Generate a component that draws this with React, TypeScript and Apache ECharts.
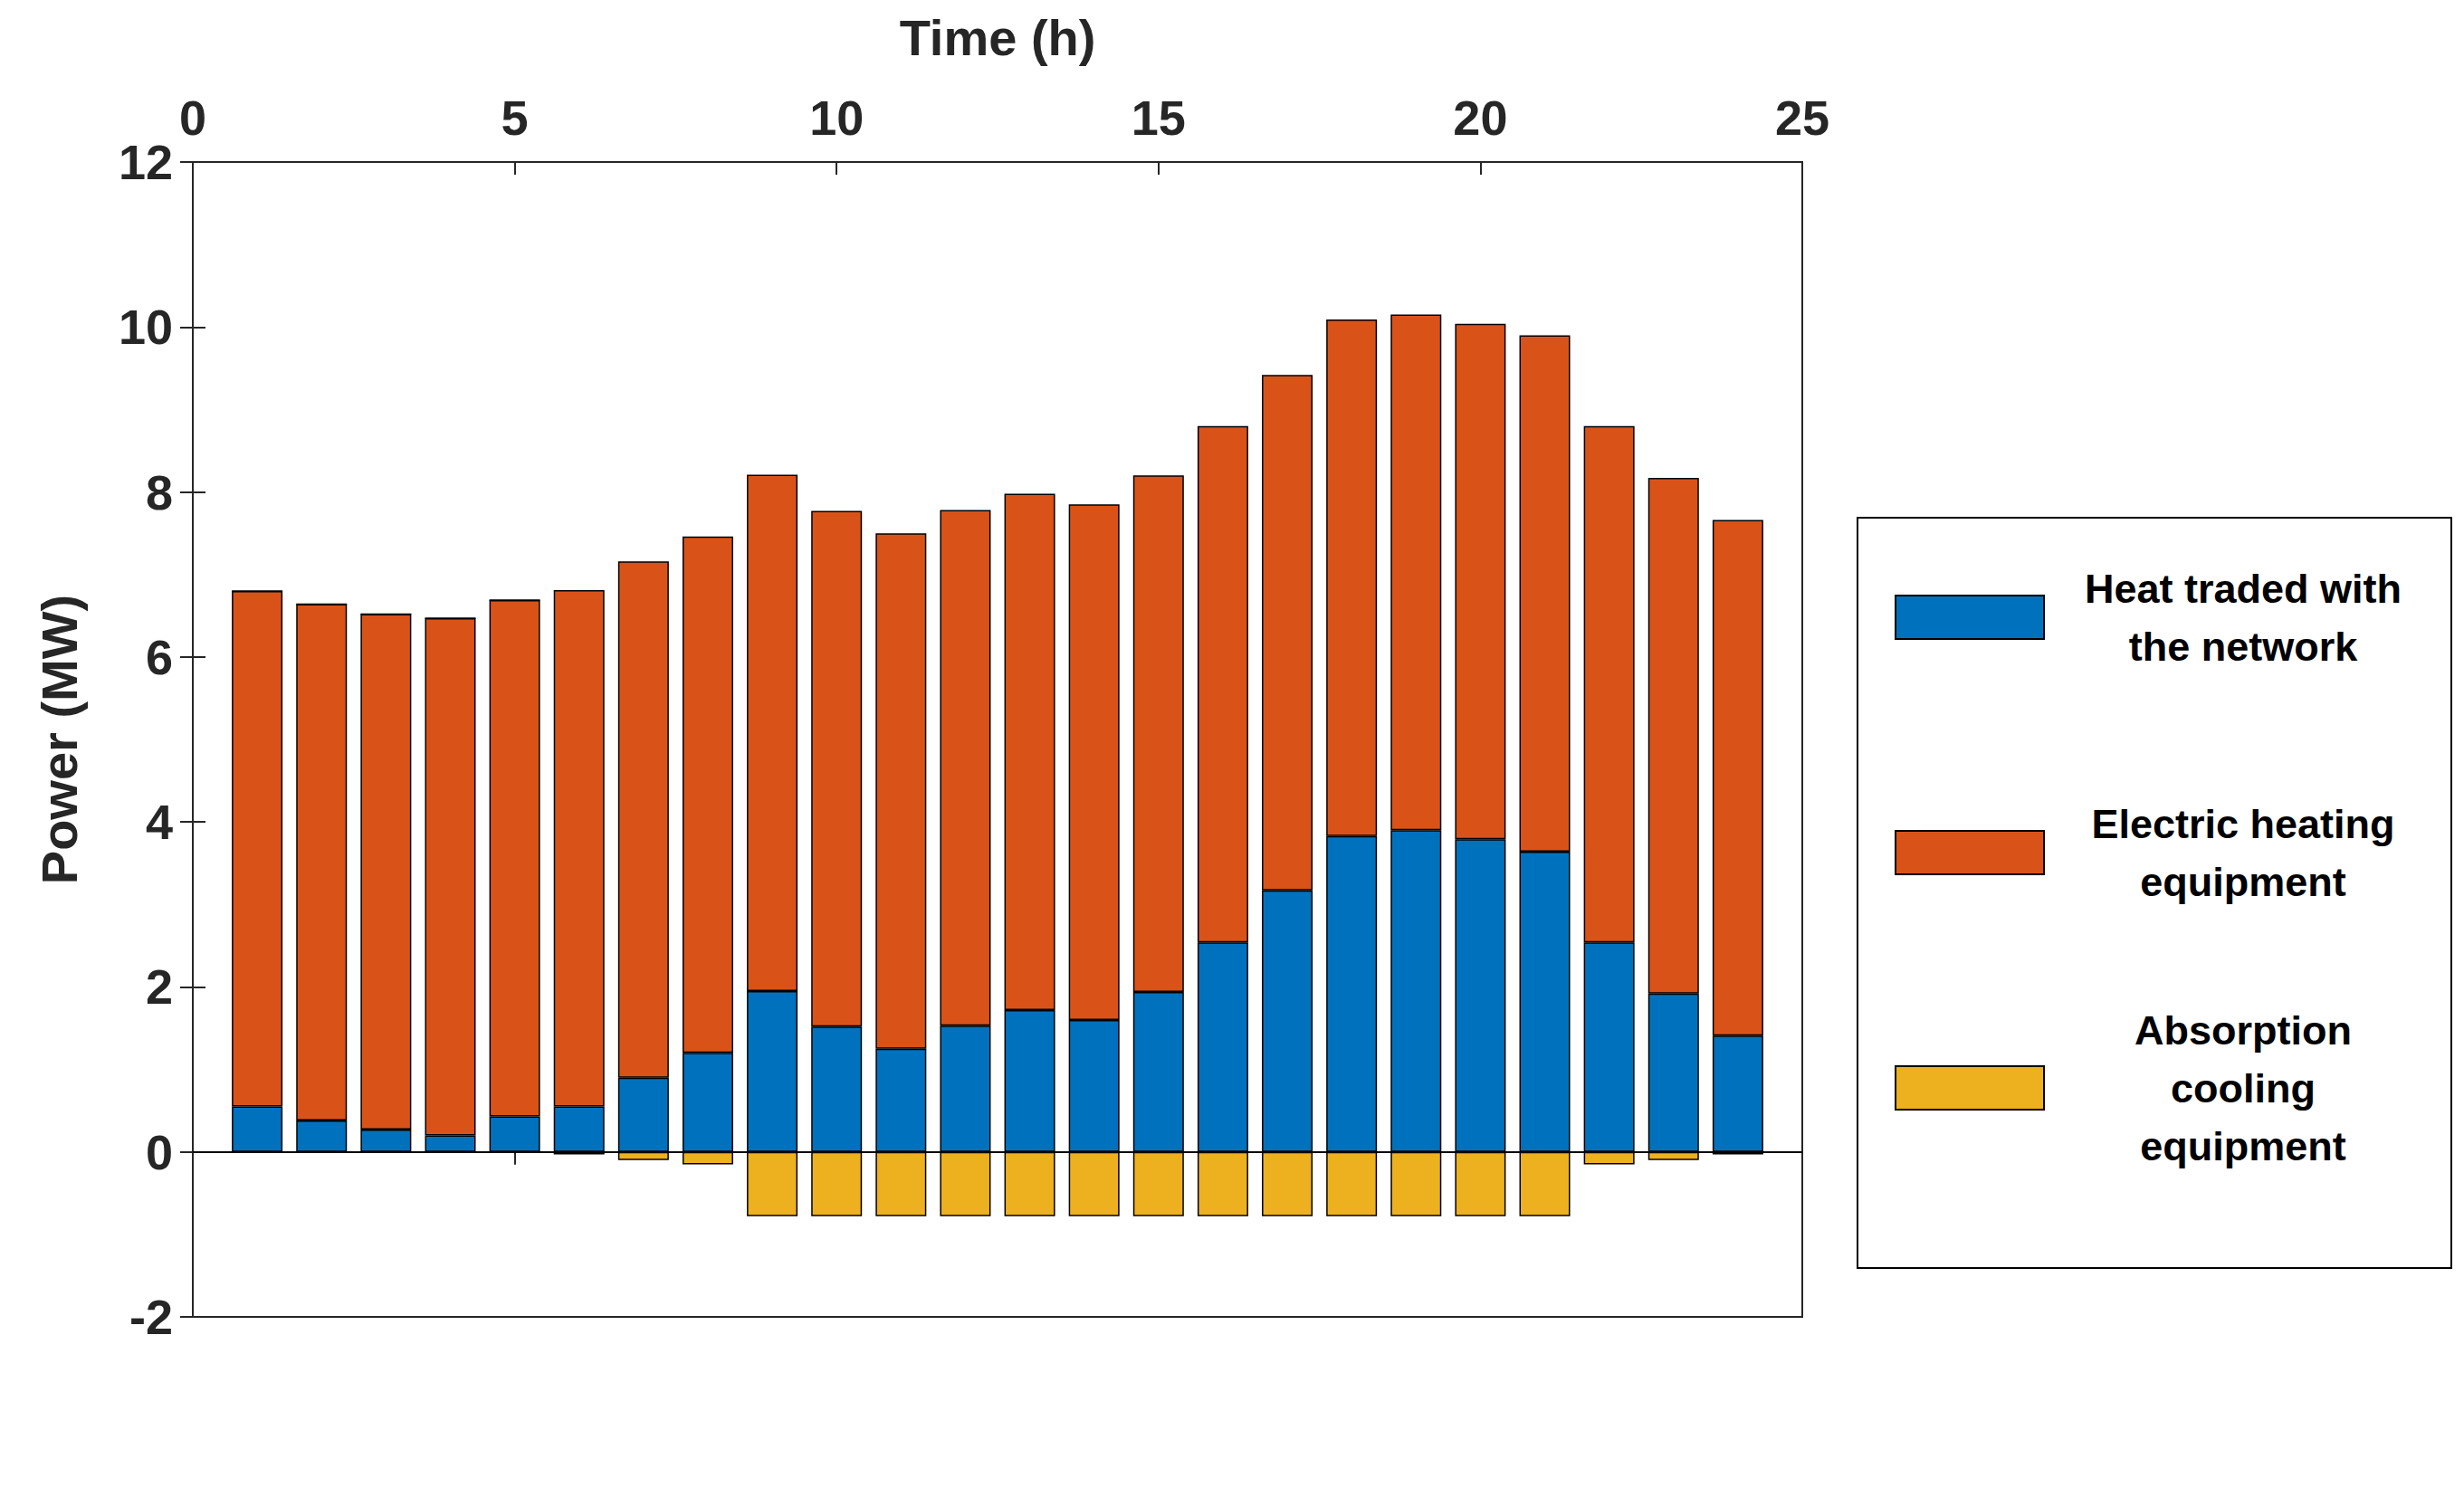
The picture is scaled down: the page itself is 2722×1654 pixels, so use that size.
import React, { useEffect, useRef } from "react";
import * as echarts from "echarts";

const slots = ["0","1","2","3","4","5","6","7","8","9","10","11","12","13","14","15","16","17","18","19","20","21","22","23","24","25"];
const heatTraded = [0.55,0.38,0.27,0.2,0.43,0.55,0.9,1.2,1.95,1.52,1.25,1.53,1.72,1.6,1.94,2.54,3.17,3.83,3.9,3.79,3.64,2.54,1.92,1.41];
const electricHeating = [6.25,6.26,6.25,6.27,6.26,6.26,6.26,6.26,6.26,6.25,6.25,6.25,6.26,6.25,6.26,6.26,6.25,6.26,6.25,6.25,6.26,6.26,6.25,6.25];
const absorptionCooling = [0,0,0,0,0,-0.03,-0.1,-0.15,-0.78,-0.78,-0.78,-0.78,-0.78,-0.78,-0.78,-0.78,-0.78,-0.78,-0.78,-0.78,-0.78,-0.15,-0.1,-0.03];

const FONT = "Liberation Sans";

export default function App() {
  const ref = useRef<HTMLDivElement>(null);
  useEffect(() => {
    const chart = echarts.init(ref.current!, null, { renderer: "svg" });
    const pad = (vals: number[]) => [null, ...vals, null];
    const mk = (name: string, vals: number[], c: string) => ({
      name, type: "bar", stack: "s", barWidth: 56, xAxisIndex: 0, yAxisIndex: 0,
      data: pad(vals),
      itemStyle: { color: c, borderColor: "#000", borderWidth: 1.5 },
    });
    const lbl = { fontFamily: FONT, fontWeight: "bold", fontSize: 54, color: "#262626" };
    const line = { color: "#262626", width: 2 };
    const tick = { show: true, inside: true, length: 14, lineStyle: line };
    const legendItems = [
      { c: "#0072BD", y: 682, lines: ["Heat traded with", "the network"] },
      { c: "#D95319", y: 942, lines: ["Electric heating", "equipment"] },
      { c: "#EDB120", y: 1202, lines: ["Absorption", "cooling", "equipment"] },
    ];
    const graphic: any[] = [
      { type: "rect", shape: { x: 2044, y: 564, width: 656, height: 829 }, style: { fill: "#fff", stroke: "#000", lineWidth: 2 } },
    ];
    legendItems.forEach((it) => {
      graphic.push({ type: "rect", shape: { x: 2086, y: it.y - 32, width: 164, height: 48 }, style: { fill: it.c, stroke: "#000", lineWidth: 2 } });
      const n = it.lines.length;
      it.lines.forEach((l, k) => {
        graphic.push({
          type: "text", x: 2470, y: it.y - 8 + (k - (n - 1) / 2) * 64,
          style: { text: l, fontFamily: FONT, fontWeight: "bold", fontSize: 45, fill: "#000", align: "center", verticalAlign: "middle" },
        });
      });
    });
    chart.setOption({
      animation: false,
      grid: { left: 205, top: 43, width: 1778, height: 1404, show: true, borderColor: "#262626", borderWidth: 2 },
      xAxis: [
        { type: "category", data: slots, boundaryGap: false, show: false },
        { type: "value", min: 0, max: 25, interval: 5, name: "Time (h)", nameLocation: "middle", nameGap: 110,
          nameTextStyle: { ...lbl, fontSize: 56 },
          axisLine: { onZero: false, lineStyle: line },
          axisTick: tick, axisLabel: { ...lbl, margin: 22 }, splitLine: { show: false } },
        { type: "value", min: 0, max: 25, interval: 5, position: "top",
          axisLine: { lineStyle: line }, axisTick: tick, axisLabel: { show: false }, splitLine: { show: false } },
      ],
      yAxis: [
        { type: "value", min: -2, max: 12, interval: 2, name: "Power (MW)", nameLocation: "middle", nameGap: 120,
          nameTextStyle: { ...lbl, fontSize: 56 },
          axisLine: { show: true, onZero: false, lineStyle: line },
          axisTick: tick, axisLabel: { ...lbl, margin: 22 }, splitLine: { show: false } },
        { type: "value", min: -2, max: 12, interval: 2, position: "right",
          axisLine: { show: true, lineStyle: line }, axisTick: tick, axisLabel: { show: false }, splitLine: { show: false } },
      ],
      series: [
        mk("Heat traded with the network", heatTraded, "#0072BD"),
        mk("Electric heating equipment", electricHeating, "#D95319"),
        { ...mk("Absorption cooling equipment", absorptionCooling, "#EDB120"),
          markLine: { silent: true, symbol: "none", label: { show: false },
            lineStyle: { color: "#000", width: 2, type: "solid" }, data: [{ yAxis: 0 }] } },
        { type: "line", xAxisIndex: 2, yAxisIndex: 1, data: [], silent: true },
        { type: "line", xAxisIndex: 1, yAxisIndex: 1, data: [], silent: true },
      ],
      graphic,
    });
    return () => chart.dispose();
  }, []);
  return <div ref={ref} style={{ width: 2706, height: 1638 }} />;
}
